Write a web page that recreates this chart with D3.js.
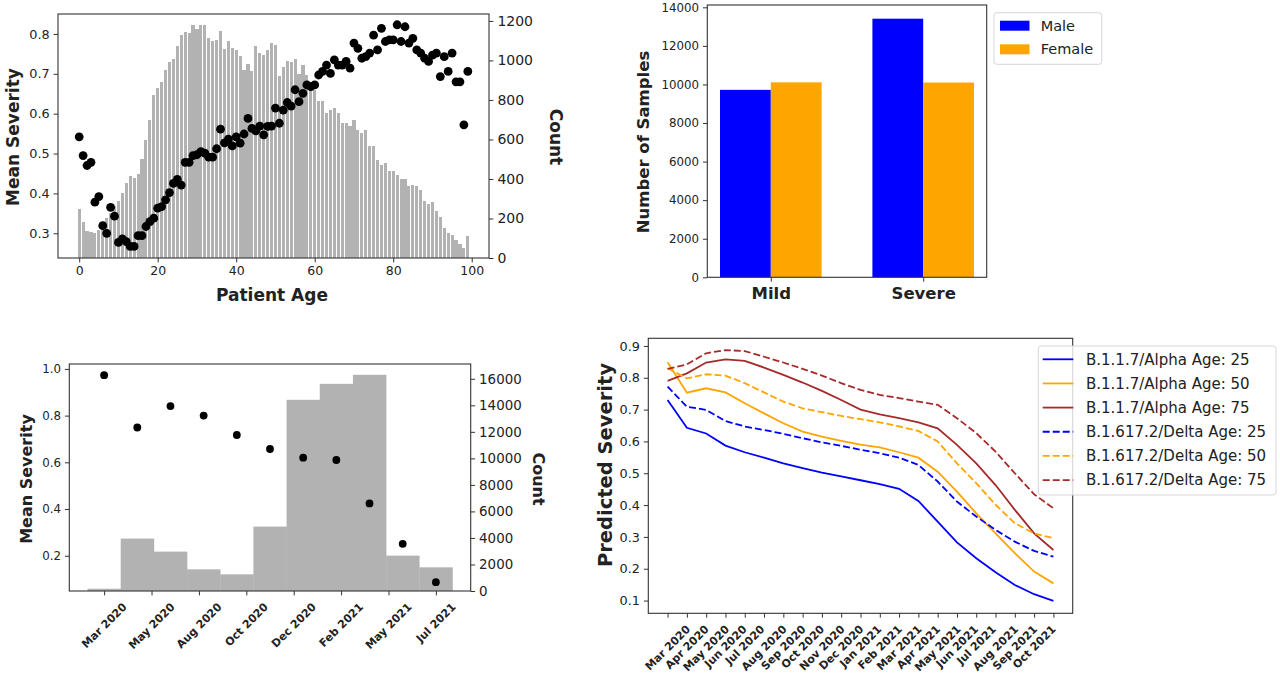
<!DOCTYPE html>
<html>
<head>
<meta charset="utf-8">
<script src="https://cdn.jsdelivr.net/npm/d3@7"></script>
<style>
  body { margin: 0; background: #fff; }
  svg text { font-family: "DejaVu Sans", sans-serif; fill: #222; }
</style>
</head>
<body>
<svg id="chart" width="1280" height="682"></svg>
<script>
// ---- panel 1: severity / count by patient age
var ages = d3.range(100);
var ageCounts = [248,182,138,133,126,143,177,202,228,262,
  287,329,380,413,405,427,501,599,700,827,
  860,890,952,990,1007,1074,1131,1145,1139,1181,
  1159,1181,1181,1114,1097,1105,1148,1058,1097,1063,
  1055,1024,954,984,945,1075,1038,1030,1055,1089,
  1080,923,966,998,992,1008,932,979,928,886,
  852,793,793,734,751,759,734,684,684,670,
  700,650,633,650,565,565,498,473,481,439,
  439,422,400,400,363,371,363,343,287,275,
  282,236,208,152,127,118,93,71,51,110];
var ageSeverity = [0.542,0.495,0.470,0.478,0.378,0.392,0.319,0.300,0.365,0.343,
  0.277,0.286,0.279,0.267,0.267,0.294,0.294,0.317,0.329,0.338,
  0.363,0.367,0.384,0.402,0.425,0.435,0.421,0.478,0.478,0.495,
  0.497,0.505,0.501,0.491,0.491,0.512,0.561,0.527,0.536,0.519,
  0.542,0.526,0.549,0.588,0.563,0.557,0.569,0.547,0.568,0.569,
  0.614,0.576,0.609,0.628,0.619,0.660,0.630,0.651,0.672,0.668,
  0.672,0.697,0.706,0.722,0.701,0.735,0.722,0.722,0.731,0.714,
  0.777,0.764,0.739,0.743,0.752,0.797,0.760,0.814,0.781,0.785,
  0.785,0.823,0.781,0.818,0.777,0.789,0.760,0.752,0.739,0.731,
  0.747,0.752,0.693,0.743,0.706,0.752,0.680,0.680,0.572,0.706];

// ---- panel 2: samples by severity and sex
var groups = ["Mild", "Severe"];
var maleSamples = [9720, 13410];
var femaleSamples = [10110, 10100];
var sexLabels = ["Male", "Female"];

// ---- panel 3: severity / count by time bin
var binCounts = [170, 3950, 2970, 1635, 1258, 4855, 14415, 15620, 16300, 2667, 1786];
var binSeverity = [0.973, 0.749, 0.841, 0.800, 0.717, 0.657, 0.620, 0.610, 0.424, 0.251, 0.087];
var binTickLabels = ["Mar 2020", "May 2020", "Aug 2020", "Oct 2020", "Dec 2020", "Feb 2021", "May 2021", "Jul 2021"];

// ---- panel 4: predicted severity per variant and age
var monthLabels = ["Mar 2020","Apr 2020","May 2020","Jun 2020","Jul 2020","Aug 2020","Sep 2020","Oct 2020",
  "Nov 2020","Dec 2020","Jan 2021","Feb 2021","Mar 2021","Apr 2021","May 2021","Jun 2021",
  "Jul 2021","Aug 2021","Sep 2021","Oct 2021"];
var alpha25 = [0.730,0.643,0.625,0.587,0.566,0.549,0.531,0.516,0.502,0.490,0.478,0.466,0.451,0.413,0.348,0.283,0.233,0.189,0.149,0.120,0.099];
var alpha50 = [0.849,0.753,0.767,0.754,0.720,0.688,0.657,0.631,0.615,0.602,0.590,0.581,0.566,0.549,0.505,0.442,0.374,0.311,0.249,0.191,0.154];
var alpha75 = [0.790,0.814,0.848,0.858,0.853,0.832,0.809,0.785,0.759,0.730,0.700,0.685,0.673,0.660,0.641,0.589,0.531,0.463,0.385,0.311,0.259];
var delta25 = [0.772,0.709,0.699,0.664,0.647,0.636,0.624,0.610,0.597,0.586,0.574,0.563,0.549,0.526,0.474,0.411,0.364,0.322,0.285,0.256,0.238];
var delta50 = [0.830,0.798,0.811,0.807,0.783,0.754,0.725,0.704,0.692,0.680,0.670,0.660,0.647,0.633,0.600,0.531,0.469,0.401,0.343,0.311,0.296];
var delta75 = [0.828,0.842,0.877,0.887,0.884,0.866,0.848,0.828,0.807,0.783,0.762,0.746,0.736,0.725,0.715,0.673,0.626,0.568,0.500,0.434,0.390];
var seriesNames = ["B.1.1.7/Alpha Age: 25","B.1.1.7/Alpha Age: 50","B.1.1.7/Alpha Age: 75",
  "B.1.617.2/Delta Age: 25","B.1.617.2/Delta Age: 50","B.1.617.2/Delta Age: 75"];

var GRAY = "#b2b2b2", BLUE = "#0000ff", ORANGE = "#ffa500", BROWN = "#a52a2a";
var TICK = 4.4, PAD = 4;
var intFmt = d3.format("d"), oneDec = d3.format(".1f");

var svg = d3.select("#chart");

// helpers
function frame(x0, y0, x1, y1) {
    svg.append("rect")
        .attr("x", x0).attr("y", y0)
        .attr("width", x1 - x0).attr("height", y1 - y0)
        .attr("fill", "none").attr("stroke", "#333").attr("stroke-width", 1.1);
}

function styleAxis(ax, size, bold) {
    ax.attr("font-size", size).attr("font-family", "DejaVu Sans").attr("color", "#333");
    ax.select(".domain").remove();
    ax.selectAll("text").attr("fill", "#222").attr("font-weight", bold ? "bold" : null);
    return ax;
}

function axisLabel(text, x, y, size, rot) {
    svg.append("text")
        .attr("transform", "translate(" + x + "," + y + ") rotate(" + rot + ")")
        .attr("text-anchor", "middle")
        .attr("dy", "0.35em")
        .attr("font-size", size)
        .attr("font-weight", "bold")
        .text(text);
}

// 45 degree labels, centred on their tick like matplotlib's rotation=45
function rotatedLabels(scale, positions, labels, yTop, size) {
    positions.forEach(function(p, i) {
        if (labels[i] === undefined) return;
        var t = svg.append("text")
            .attr("text-anchor", "middle")
            .attr("dy", "0.35em")
            .attr("font-size", size)
            .attr("font-weight", "bold")
            .text(labels[i]);
        var side = (t.node().getComputedTextLength() + size) / Math.SQRT2;
        t.attr("transform", "translate(" + scale(p) + "," + (yTop + side / 2) + ") rotate(-45)");
    });
}

// ================= panel 1
(function() {
    var L = 58, R = 489, T = 14, B = 258;
    var x = d3.scaleLinear().domain([-5.4, 104.4]).range([L, R]);
    var yL = d3.scaleLinear().domain([0.238, 0.85]).range([B, T]);
    var yR = d3.scaleLinear().domain([0, 1235]).range([B, T]);

    svg.append("g").selectAll("rect")
        .data(ages)
        .enter().append("rect")
        .attr("x", function(a) { return x(a - 0.4); })
        .attr("width", x(0.8) - x(0))
        .attr("y", function(a) { return yR(ageCounts[a]); })
        .attr("height", function(a) { return yR(0) - yR(ageCounts[a]); })
        .attr("fill", GRAY)
        .attr("shape-rendering", "crispEdges");

    svg.append("g").selectAll("circle")
        .data(ages)
        .enter().append("circle")
        .attr("cx", function(a) { return x(a); })
        .attr("cy", function(a) { return yL(ageSeverity[a]); })
        .attr("r", 4.4)
        .attr("fill", "#000");

    frame(L, T, R, B);

    styleAxis(svg.append("g").attr("transform", "translate(0," + B + ")")
        .call(d3.axisBottom(x).tickValues([0, 20, 40, 60, 80, 100]).tickFormat(intFmt).tickSize(TICK).tickPadding(PAD)), 12.5);
    styleAxis(svg.append("g").attr("transform", "translate(" + L + ",0)")
        .call(d3.axisLeft(yL).tickValues([0.3, 0.4, 0.5, 0.6, 0.7, 0.8]).tickFormat(oneDec).tickSize(TICK).tickPadding(PAD)), 12.8);
    styleAxis(svg.append("g").attr("transform", "translate(" + R + ",0)")
        .call(d3.axisRight(yR).tickValues(d3.range(0, 1201, 200)).tickFormat(intFmt).tickSize(TICK).tickPadding(PAD)), 14);

    axisLabel("Mean Severity", 13, 137, 17, -90);
    axisLabel("Patient Age", 272, 295, 17, 0);
    axisLabel("Count", 556, 137, 17, 90);
})();

// ================= panel 2
(function() {
    var L = 707.3, R = 986.7, T = 5, B = 277.3;
    var w = 1 / 3;
    var x = d3.scaleLinear().domain([-0.4167, 1.4167]).range([L, R]);
    var y = d3.scaleLinear().domain([0, 14120]).range([B, T]);
    var g = svg.append("g");
    groups.forEach(function(name, i) {
        g.append("rect")
            .attr("x", x(i - w)).attr("width", x(w) - x(0))
            .attr("y", y(maleSamples[i])).attr("height", y(0) - y(maleSamples[i]))
            .attr("fill", BLUE);
        g.append("rect")
            .attr("x", x(i)).attr("width", x(w) - x(0))
            .attr("y", y(femaleSamples[i])).attr("height", y(0) - y(femaleSamples[i]))
            .attr("fill", ORANGE);
    });
    frame(L, T, R, B);

    styleAxis(svg.append("g").attr("transform", "translate(" + L + ",0)")
        .call(d3.axisLeft(y).tickValues(d3.range(0, 14001, 2000)).tickFormat(intFmt).tickSize(TICK).tickPadding(PAD)), 11.8);
    styleAxis(svg.append("g").attr("transform", "translate(0," + B + ")")
        .call(d3.axisBottom(x).tickValues([0, 1]).tickFormat(function(d) { return groups[d]; }).tickSize(TICK).tickPadding(6)), 16.5, true);

    axisLabel("Number of Samples", 643, 142, 16.5, -90);

    // legend
    var lg = svg.append("g");
    lg.append("rect").attr("x", 994).attr("y", 12.7).attr("width", 107.7).attr("height", 51.6)
        .attr("rx", 3).attr("fill", "#fff").attr("stroke", "#d6d6d6");
    [BLUE, ORANGE].forEach(function(c, i) {
        var cy = 25.7 + i * 23.6;
        lg.append("rect").attr("x", 1000).attr("y", cy - 5).attr("width", 29.5).attr("height", 10).attr("fill", c);
        lg.append("text").attr("x", 1040.7).attr("y", cy).attr("dy", "0.35em")
            .attr("font-size", 14.5).text(sexLabels[i]);
    });
})();

// ================= panel 3
(function() {
    var L = 69.3, R = 470.7, T = 364, B = 591;
    var n = binCounts.length;
    var x = d3.scaleLinear().domain([-0.55, n + 0.55]).range([L, R]);
    var yL = d3.scaleLinear().domain([0.049, 1.021]).range([B, T]);
    var yR = d3.scaleLinear().domain([0, 17115]).range([B, T]);

    svg.append("g").selectAll("rect")
        .data(binCounts)
        .enter().append("rect")
        .attr("x", function(d, i) { return x(i); })
        .attr("width", x(1) - x(0) + 0.3)
        .attr("y", function(d) { return yR(d); })
        .attr("height", function(d) { return yR(0) - yR(d); })
        .attr("fill", GRAY);

    svg.append("g").selectAll("circle")
        .data(binSeverity)
        .enter().append("circle")
        .attr("cx", function(d, i) { return x(i + 0.5); })
        .attr("cy", function(d) { return yL(d); })
        .attr("r", 3.9)
        .attr("fill", "#000");

    frame(L, T, R, B);

    // labelled ticks spread evenly from first to last bin centre
    var tickPos = binTickLabels.map(function(l, k) {
        return 0.5 + k * (n - 1) / (binTickLabels.length - 1);
    });
    styleAxis(svg.append("g").attr("transform", "translate(0," + B + ")")
        .call(d3.axisBottom(x).tickValues(tickPos).tickFormat("").tickSize(TICK)), 11);
    rotatedLabels(x, tickPos, binTickLabels, B + 10, 11);

    styleAxis(svg.append("g").attr("transform", "translate(" + L + ",0)")
        .call(d3.axisLeft(yL).tickValues([0.2, 0.4, 0.6, 0.8, 1.0]).tickFormat(oneDec).tickSize(TICK).tickPadding(PAD)), 11.8);
    styleAxis(svg.append("g").attr("transform", "translate(" + R + ",0)")
        .call(d3.axisRight(yR).tickValues(d3.range(0, 16001, 2000)).tickFormat(intFmt).tickSize(TICK).tickPadding(PAD)), 13.4);

    axisLabel("Mean Severity", 26.5, 479, 16, -90);
    axisLabel("Count", 539, 479, 16, 90);
})();

// ================= panel 4
(function() {
    var L = 648.3, R = 1072.7, T = 338.3, B = 613.3;
    var series = [alpha25, alpha50, alpha75, delta25, delta50, delta75];
    var colors = [BLUE, ORANGE, BROWN, BLUE, ORANGE, BROWN];
    var x = d3.scaleLinear().domain([-1, alpha25.length]).range([L, R]);
    var y = d3.scaleLinear().domain([0.060, 0.924]).range([B, T]);
    var line = d3.line()
        .x(function(d, i) { return x(i); })
        .y(function(d) { return y(d); });

    svg.append("g").selectAll("path")
        .data(series)
        .enter().append("path")
        .attr("d", line)
        .attr("fill", "none")
        .attr("stroke", function(d, i) { return colors[i]; })
        .attr("stroke-width", 1.8)
        .attr("stroke-dasharray", function(d, i) { return i >= 3 ? "7,3" : null; });

    frame(L, T, R, B);

    var tickPos = d3.range(alpha25.length);
    styleAxis(svg.append("g").attr("transform", "translate(0," + B + ")")
        .call(d3.axisBottom(x).tickValues(tickPos).tickFormat("").tickSize(TICK)), 11);
    rotatedLabels(x, tickPos, monthLabels, B + 10, 11);

    styleAxis(svg.append("g").attr("transform", "translate(" + L + ",0)")
        .call(d3.axisLeft(y).tickValues([0.1, 0.2, 0.3, 0.4, 0.5, 0.6, 0.7, 0.8, 0.9]).tickFormat(oneDec).tickSize(TICK).tickPadding(PAD)), 12.8);

    axisLabel("Predicted Severity", 605, 465, 19.5, -90);

    // legend
    var lg = svg.append("g");
    lg.append("rect").attr("x", 1038.3).attr("y", 346).attr("width", 237.7).attr("height", 149)
        .attr("rx", 3).attr("fill", "#fff").attr("fill-opacity", 0.8).attr("stroke", "#d6d6d6");
    seriesNames.forEach(function(name, i) {
        var cy = 359.3 + i * 24.15;
        lg.append("line").attr("x1", 1042.7).attr("x2", 1073.3).attr("y1", cy).attr("y2", cy)
            .attr("stroke", colors[i]).attr("stroke-width", 1.8)
            .attr("stroke-dasharray", i >= 3 ? "7,3" : null);
        lg.append("text").attr("x", 1086).attr("y", cy).attr("dy", "0.35em")
            .attr("font-size", 15).text(name);
    });
})();
</script>
</body>
</html>
